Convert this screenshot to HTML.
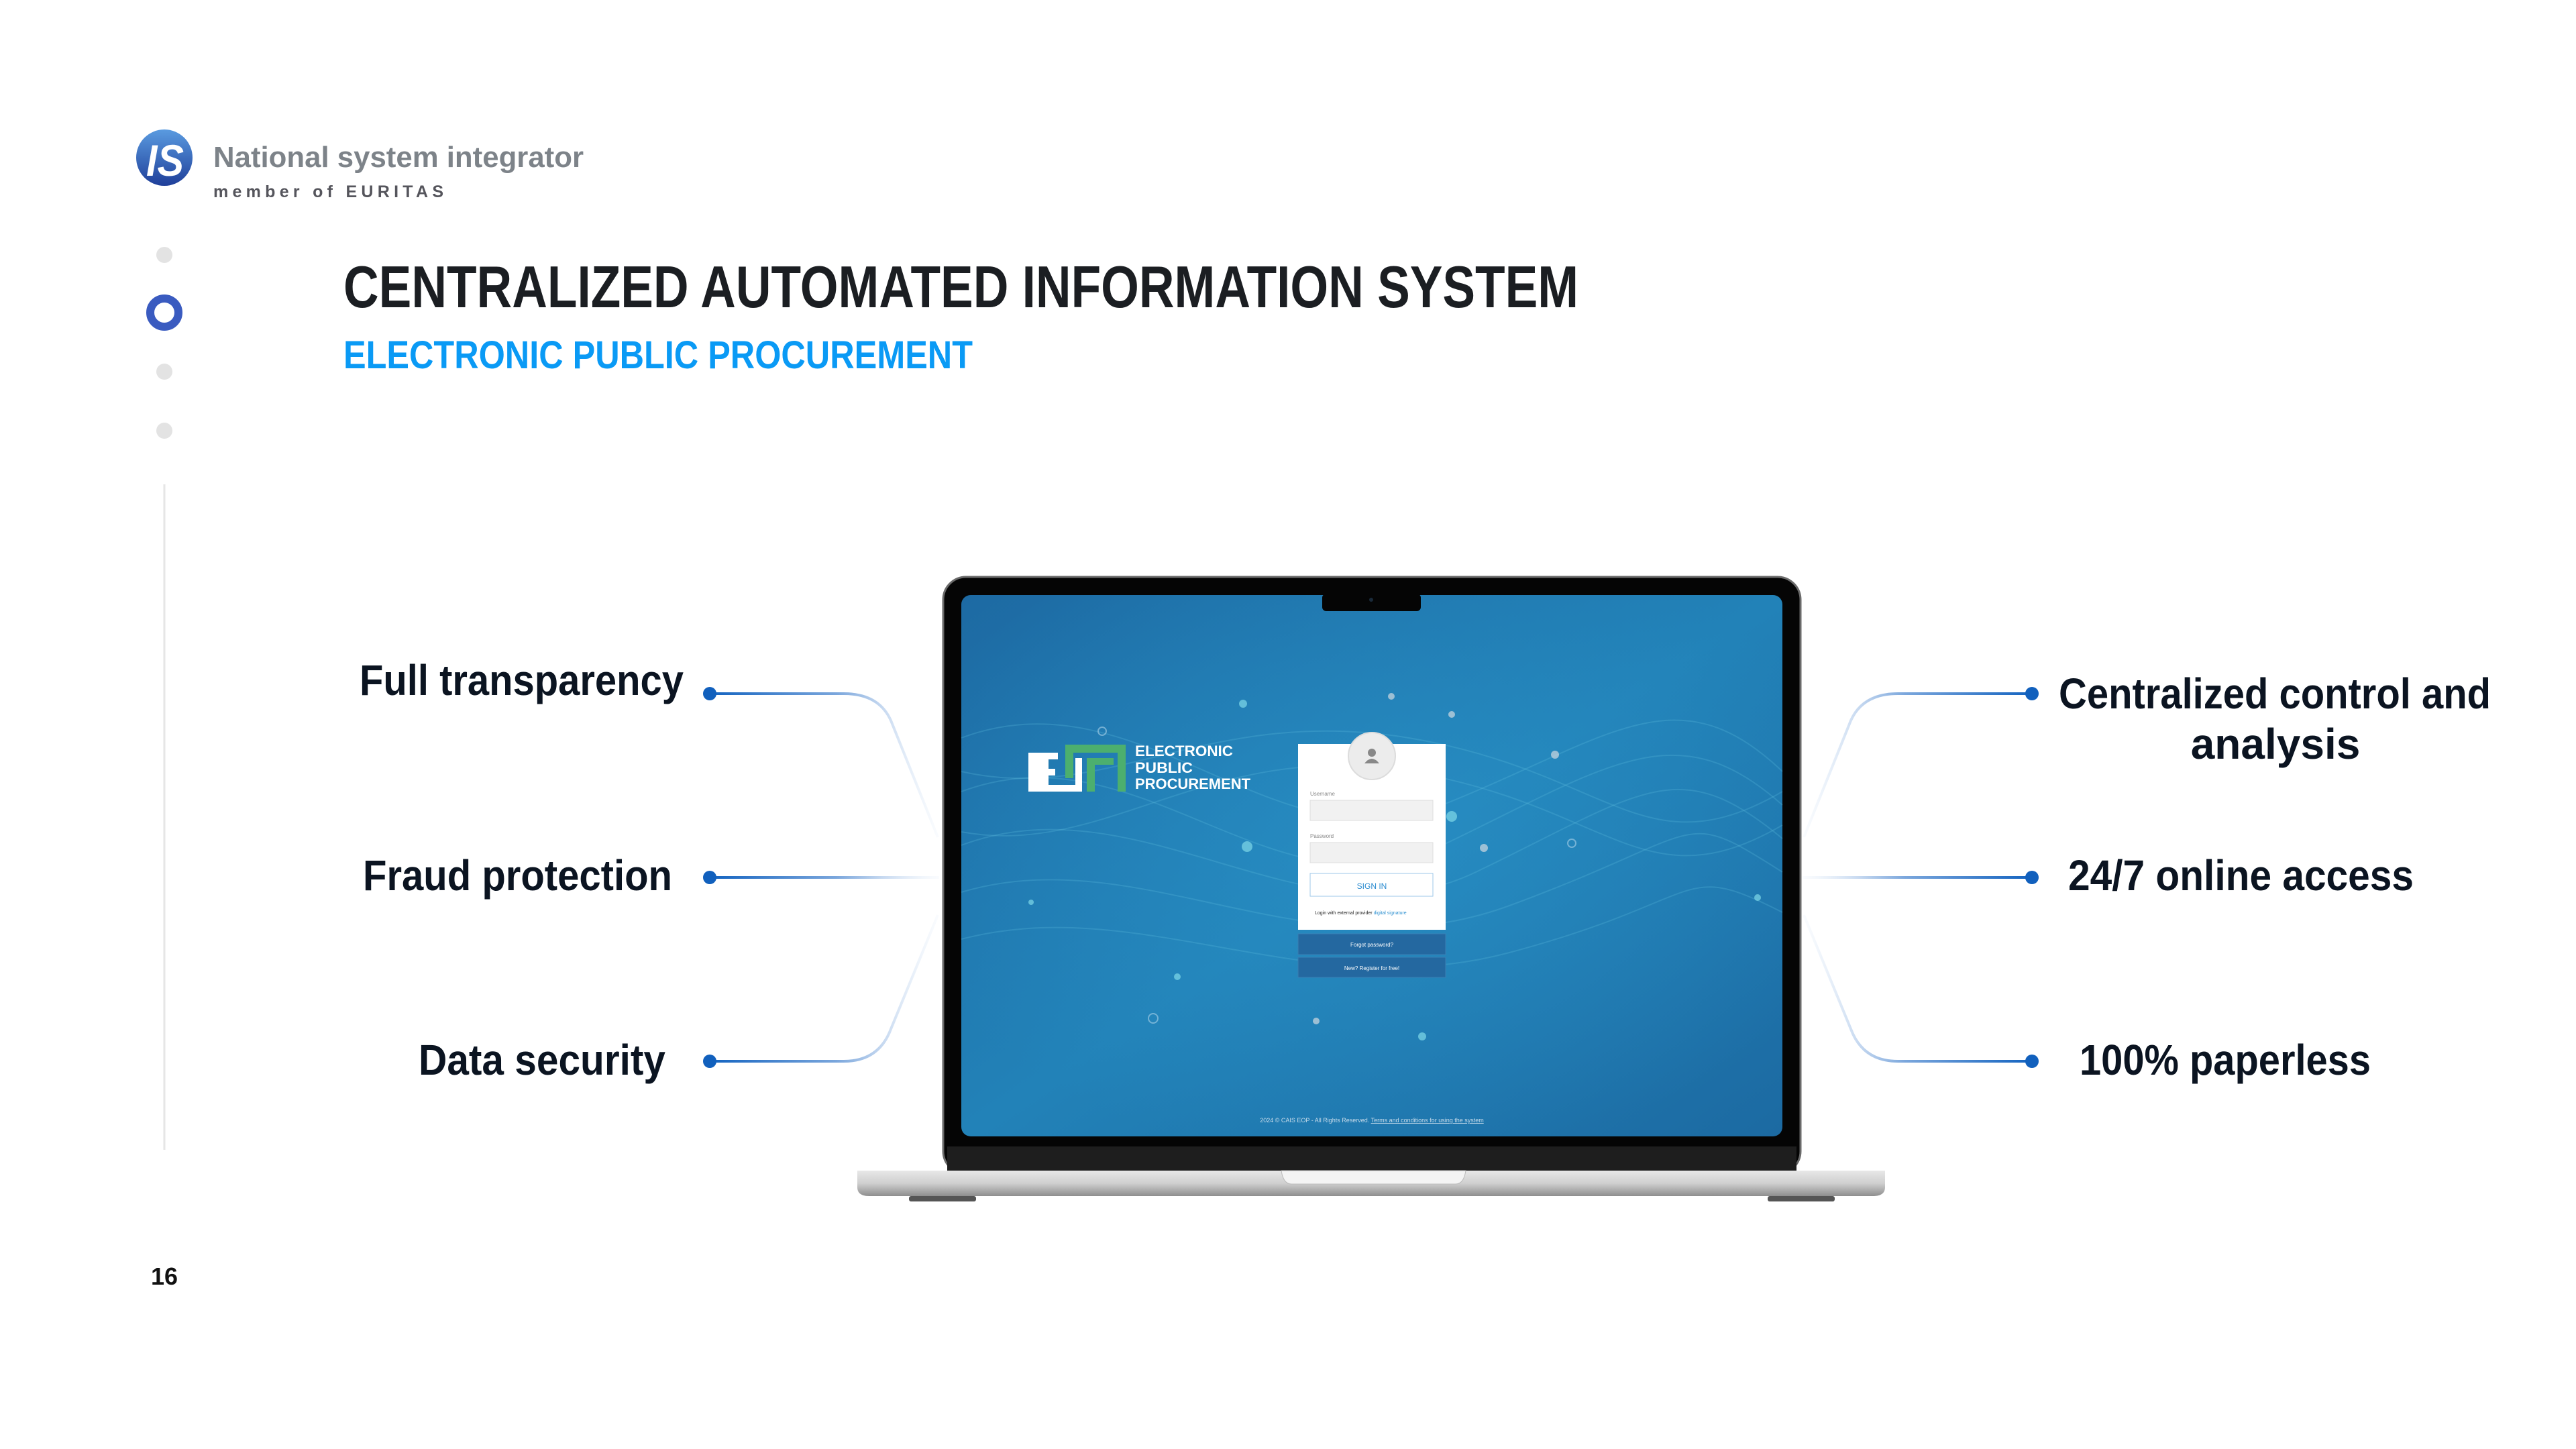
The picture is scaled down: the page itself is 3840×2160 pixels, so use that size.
<!DOCTYPE html>
<html><head><meta charset="utf-8"><style>
html,body{margin:0;padding:0;background:#fff;width:3840px;height:2160px;overflow:hidden}
svg{display:block}
text{font-family:"Liberation Sans",Arial,sans-serif}
</style></head><body>
<svg width="3840" height="2160" viewBox="0 0 3840 2160" xmlns="http://www.w3.org/2000/svg">
<defs>
<linearGradient id="lg" gradientUnits="userSpaceOnUse" x1="1058" y1="0" x2="1400" y2="0"><stop offset="0" stop-color="#1363c0"/><stop offset="0.55" stop-color="#7aa6dc"/><stop offset="0.75" stop-color="#c5d8f0"/><stop offset="1" stop-color="#eef4fb" stop-opacity="0.3"/></linearGradient>
<linearGradient id="rg" gradientUnits="userSpaceOnUse" x1="3029" y1="0" x2="2687" y2="0"><stop offset="0" stop-color="#1363c0"/><stop offset="0.55" stop-color="#7aa6dc"/><stop offset="0.75" stop-color="#c5d8f0"/><stop offset="1" stop-color="#eef4fb" stop-opacity="0.3"/></linearGradient>
<linearGradient id="scr" x1="0" y1="0" x2="1" y2="1"><stop offset="0" stop-color="#1d6aa3"/><stop offset="0.5" stop-color="#2282b8"/><stop offset="1" stop-color="#1c6aa2"/></linearGradient>
<linearGradient id="base" x1="0" y1="0" x2="0" y2="1"><stop offset="0" stop-color="#e8e8e8"/><stop offset="0.5" stop-color="#cfcfcf"/><stop offset="1" stop-color="#8e8e8e"/></linearGradient>
<linearGradient id="logo" x1="0" y1="0" x2="0" y2="1"><stop offset="0" stop-color="#5a9be0"/><stop offset="1" stop-color="#1f3f9a"/></linearGradient>
<radialGradient id="glow" cx="0.5" cy="0.45" r="0.6"><stop offset="0" stop-color="#2a93c8" stop-opacity="0.6"/><stop offset="1" stop-color="#2a93c8" stop-opacity="0"/></radialGradient>
</defs>

<circle cx="245" cy="235" r="42" fill="url(#logo)"/>
<text x="218" y="262" font-size="66" font-weight="bold" fill="#fff" font-style="italic" textLength="56" lengthAdjust="spacingAndGlyphs">IS</text>
<text x="318" y="249" font-size="44" font-weight="bold" fill="#7d8389" textLength="552" lengthAdjust="spacingAndGlyphs">National system integrator</text>
<text x="318" y="294" font-size="25" font-weight="bold" fill="#55555c" textLength="343" lengthAdjust="spacing">member of EURITAS</text>

<circle cx="245" cy="380" r="12" fill="#e3e3e3"/>
<circle cx="245" cy="466" r="21" fill="none" stroke="#3a5bc0" stroke-width="12"/>
<circle cx="245" cy="554" r="12" fill="#e3e3e3"/>
<circle cx="245" cy="642" r="12" fill="#e3e3e3"/>
<line x1="245" y1="722" x2="245" y2="1714" stroke="#e6e6e6" stroke-width="3"/>

<text x="512" y="458" font-size="88" font-weight="bold" fill="#1b1e22" textLength="1841" lengthAdjust="spacingAndGlyphs">CENTRALIZED AUTOMATED INFORMATION SYSTEM</text>
<text x="512" y="549" font-size="58" font-weight="bold" fill="#0a9af5" textLength="938" lengthAdjust="spacingAndGlyphs">ELECTRONIC PUBLIC PROCUREMENT</text>

<g font-size="64" font-weight="bold" fill="#0b1421">
<text x="536" y="1036" textLength="483" lengthAdjust="spacingAndGlyphs">Full transparency</text>
<text x="541" y="1327" textLength="461" lengthAdjust="spacingAndGlyphs">Fraud protection</text>
<text x="624" y="1602" textLength="368" lengthAdjust="spacingAndGlyphs">Data security</text>
<text x="3069" y="1056" textLength="644" lengthAdjust="spacingAndGlyphs">Centralized control and</text>
<text x="3392" y="1131" text-anchor="middle">analysis</text>
<text x="3083" y="1327" textLength="515" lengthAdjust="spacingAndGlyphs">24/7 online access</text>
<text x="3100" y="1602" textLength="434" lengthAdjust="spacingAndGlyphs">100% paperless</text>
</g>

<g fill="none" stroke-width="4">
<path d="M1058,1034 H1258 Q1310,1034 1328,1074 L1398,1248" stroke="url(#lg)"/>
<path d="M1058,1308 H1400" stroke="url(#lg)"/>
<path d="M1058,1582 H1258 Q1310,1582 1328,1534 L1398,1364" stroke="url(#lg)"/>
<path d="M3029,1034 H2829 Q2777,1034 2759,1074 L2689,1248" stroke="url(#rg)"/>
<path d="M3029,1308 H2687" stroke="url(#rg)"/>
<path d="M3029,1582 H2829 Q2777,1582 2759,1534 L2689,1364" stroke="url(#rg)"/>
</g>
<g fill="#1160bd">
<circle cx="1058" cy="1034" r="10"/><circle cx="1058" cy="1308" r="10"/><circle cx="1058" cy="1582" r="10"/>
<circle cx="3029" cy="1034" r="10"/><circle cx="3029" cy="1308" r="10"/><circle cx="3029" cy="1582" r="10"/>
</g>

<rect x="1406" y="860" width="1278" height="890" rx="34" fill="#050505" stroke="#6a6a6a" stroke-width="3"/>
<rect x="1412" y="1709" width="1266" height="38" fill="#1e1e1e"/>
<rect x="1433" y="887" width="1224" height="807" rx="14" fill="url(#scr)"/>
<rect x="1433" y="887" width="1224" height="807" rx="14" fill="url(#glow)"/>
<rect x="1971" y="885" width="147" height="26" rx="6" fill="#050505"/>
<circle cx="2044" cy="894" r="3" fill="#1a2a3a"/>
<g fill="none" stroke="#5fc0e0" stroke-opacity="0.25" stroke-width="2">
<path d="M1433,1100 C1700,1000 1900,1300 2150,1200 S2500,1000 2657,1150"/>
<path d="M1433,1180 C1700,1080 1900,1380 2150,1260 S2500,1060 2657,1200"/>
<path d="M1433,1260 C1700,1160 1950,1420 2200,1300 S2500,1120 2657,1250"/>
<path d="M1433,1330 C1700,1250 1950,1460 2250,1350 S2500,1200 2657,1300"/>
<path d="M1433,1400 C1700,1330 1950,1500 2250,1420 S2500,1280 2657,1360"/>
<path d="M1433,1240 C1650,1280 1800,1100 2100,1150 S2450,1350 2657,1230"/>
<path d="M1433,1150 C1650,1200 1800,1050 2100,1100 S2450,1300 2657,1180"/>
</g>
<g fill="#7fd8e8" fill-opacity="0.7">
<circle cx="1853" cy="1049" r="6"/><circle cx="1859" cy="1262" r="8"/><circle cx="2164" cy="1217" r="8"/>
<circle cx="2074" cy="1038" r="5" fill="#d0d8e0"/><circle cx="2164" cy="1065" r="5" fill="#d0d8e0"/>
<circle cx="2318" cy="1125" r="6" fill="#d0d8e0"/><circle cx="2212" cy="1264" r="6" fill="#d0d8e0"/>
<circle cx="1962" cy="1522" r="5" fill="#d0d8e0"/><circle cx="2120" cy="1545" r="6"/><circle cx="2620" cy="1338" r="5"/>
<circle cx="1755" cy="1456" r="5"/><circle cx="1537" cy="1345" r="4"/>
</g>
<g fill="none" stroke="#a8d0e8" stroke-opacity="0.6" stroke-width="2">
<circle cx="1643" cy="1090" r="6"/><circle cx="1719" cy="1518" r="7"/><circle cx="2343" cy="1257" r="6"/>
</g>
<g fill="#fff">
<rect x="1533" y="1122" width="30" height="58"/>
<rect x="1533" y="1122" width="44" height="10"/><rect x="1533" y="1146" width="40" height="10"/><rect x="1533" y="1170" width="80" height="10"/>
<rect x="1603" y="1130" width="10" height="50"/>
</g>
<g fill="#4caf6e">
<rect x="1588" y="1110" width="90" height="12"/><rect x="1588" y="1110" width="12" height="50"/><rect x="1666" y="1110" width="12" height="70"/><rect x="1620" y="1130" width="12" height="50"/><rect x="1620" y="1130" width="40" height="10"/>
</g>
<g font-size="22" font-weight="bold" fill="#fff">
<text x="1692" y="1127" textLength="146" lengthAdjust="spacingAndGlyphs">ELECTRONIC</text>
<text x="1692" y="1152" textLength="86" lengthAdjust="spacingAndGlyphs">PUBLIC</text>
<text x="1692" y="1176" textLength="172" lengthAdjust="spacingAndGlyphs">PROCUREMENT</text>
</g>
<rect x="1935" y="1109" width="220" height="277" fill="#fff"/>
<circle cx="2045" cy="1127" r="35" fill="#ececec" stroke="#dcdcdc" stroke-width="2"/>
<circle cx="2045" cy="1122" r="6" fill="#888"/><path d="M2034,1138 Q2045,1124 2056,1138 Z" fill="#888"/>
<text x="1953" y="1186" font-size="8" fill="#888">Username</text>
<rect x="1953" y="1193" width="183" height="30" fill="#f1f1f1" stroke="#ddd"/>
<text x="1953" y="1249" font-size="8" fill="#888">Password</text>
<rect x="1953" y="1256" width="183" height="30" fill="#f1f1f1" stroke="#ddd"/>
<rect x="1953" y="1302" width="183" height="34" fill="#fff" stroke="#9cc7e8"/>
<text x="2045" y="1325" font-size="12" fill="#2e8dd0" text-anchor="middle">SIGN IN</text>
<text x="1960" y="1363" font-size="7" fill="#222">Login with external provider <tspan fill="#2a8fd0">digital signature</tspan></text>
<rect x="1935" y="1392" width="220" height="31" fill="#2468a0" stroke="#3a7fb5"/>
<text x="2045" y="1411" font-size="8" fill="#fff" text-anchor="middle">Forgot password?</text>
<rect x="1935" y="1427" width="220" height="30" fill="#2468a0" stroke="#3a7fb5"/>
<text x="2045" y="1446" font-size="8" fill="#fff" text-anchor="middle">New? Register for free!</text>
<text x="2045" y="1673" font-size="9" fill="#c8dceb" text-anchor="middle">2024 © CAIS EOP - All Rights Reserved. <tspan text-decoration="underline">Terms and conditions for using the system</tspan></text>
<path d="M1278,1745 H2810 V1770 Q2810,1783 2792,1783 H1296 Q1278,1783 1278,1770 Z" fill="url(#base)"/>
<path d="M1910,1745 H2185 Q2182,1765 2170,1765 H1925 Q1913,1765 1910,1745 Z" fill="#f4f4f4" stroke="#bbb" stroke-width="1"/>
<rect x="1355" y="1783" width="100" height="8" rx="3" fill="#555"/>
<rect x="2635" y="1783" width="100" height="8" rx="3" fill="#555"/>

<text x="225" y="1915" font-size="36" font-weight="bold" fill="#111">16</text>
</svg>
</body></html>
